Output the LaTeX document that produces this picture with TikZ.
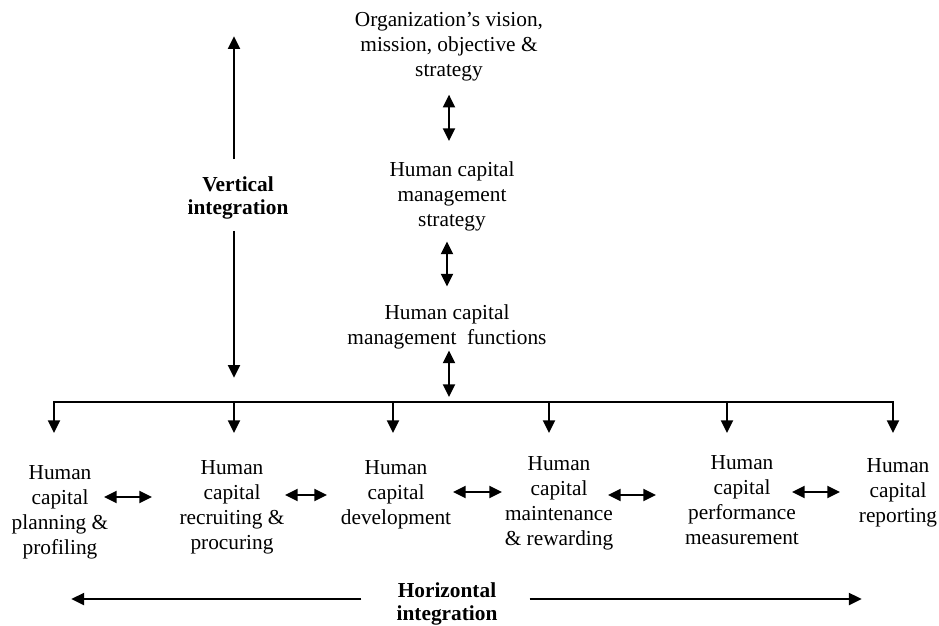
\documentclass[tikz,border=0pt]{standalone}
\usepackage{fontspec}
\setmainfont{Liberation Serif}
\usetikzlibrary{arrows.meta,calc}

\begin{document}
\begin{tikzpicture}[x=0.75pt,y=-0.75pt,
    txt/.style={align=center,inner sep=0pt,font=\fontsize{16}{18.75}\selectfont},
    bold/.style={align=center,inner sep=0pt,font=\fontsize{16}{17.6}\selectfont\bfseries},
    link/.style={line width=1.4pt,-{Triangle[length=9.5pt,width=9pt]}},
    dbl/.style={line width=1.4pt,{Triangle[length=9.5pt,width=9pt]}-{Triangle[length=9.5pt,width=9pt]}}]
    \useasboundingbox (0,0) rectangle (939,625);

    % top of the chain
    \node[txt] (org) at (449,47) {Organization's vision,\\ mission, objective \&\\ strategy};
    \node[txt] (strat) at (452,196) {Human capital\\ management\\ strategy};
    \node[txt] (func) at (447,327) {Human capital\\ management\ \ functions};

    % the functions
    \node[txt] (plan) at (60,512) {Human\\ capital\\ planning \&\\ profiling};
    \node[txt] (recr) at (232,507) {Human\\ capital\\ recruiting \&\\ procuring};
    \node[txt] (dev) at (396,495) {Human\\ capital\\ development};
    \node[txt] (main) at (559,503) {Human\\ capital\\ maintenance\\ \& rewarding};
    \node[txt] (perf) at (742,500) {Human\\ capital\\ performance\\ measurement};
    \node[txt] (rep) at (898,493) {Human\\ capital\\ reporting};

    \node[bold] (vert) at (238,198) {Vertical\\ integration};
    \node[bold] (hor) at (447,604) {Horizontal\\ integration};

    \coordinate (busL) at (54,402);
    \coordinate (busR) at (893,402);

    \draw[dbl,shorten <=9.75pt,shorten >=15pt] (org.south) -- (org.south |- strat.north);
    \draw[dbl,shorten <=7.9pt,shorten >=13.5pt] (func.north |- strat.south) -- (func.north);
    \draw[dbl,shorten <=0.75pt,shorten >=3.75pt] ([xshift=1.5pt]func.south) -- ([xshift=1.5pt]func.south |- busL);

    \draw[line width=1.4pt,line cap=rect] (busL) -- (busR);
    \foreach \n/\dx in {plan/-6,recr/2,dev/-3,main/-10,perf/-15,rep/-5}
        \draw[link] ([xshift=\dx*0.75pt]\n.north |- busL) -- ++(0,31);

    \draw[dbl] ($(plan)+(44,-15)$) -- ($(recr)+(-80,-10)$);
    \draw[dbl] ($(recr)+(53,-12)$) -- ($(dev)+(-69,0)$);
    \draw[dbl] ($(dev)+(57,-3)$) -- ($(main)+(-57,-11)$);
    \draw[dbl] ($(main)+(49,-8)$) -- ($(perf)+(-86,-5)$);
    \draw[dbl] ($(perf)+(50,-8)$) -- ($(rep)+(-58,-1)$);

    \draw[link] ($(vert.north)+(-4,-17)$) -- ++(0,-123);
    \draw[link] ($(vert.south)+(-4,11)$) -- ++(0,147);
    \draw[link] ($(hor.west)+(-35,-5)$) -- ++(-290,0);
    \draw[link] ($(hor.east)+(32,-5)$) -- ++(332,0);
\end{tikzpicture}
\end{document}
